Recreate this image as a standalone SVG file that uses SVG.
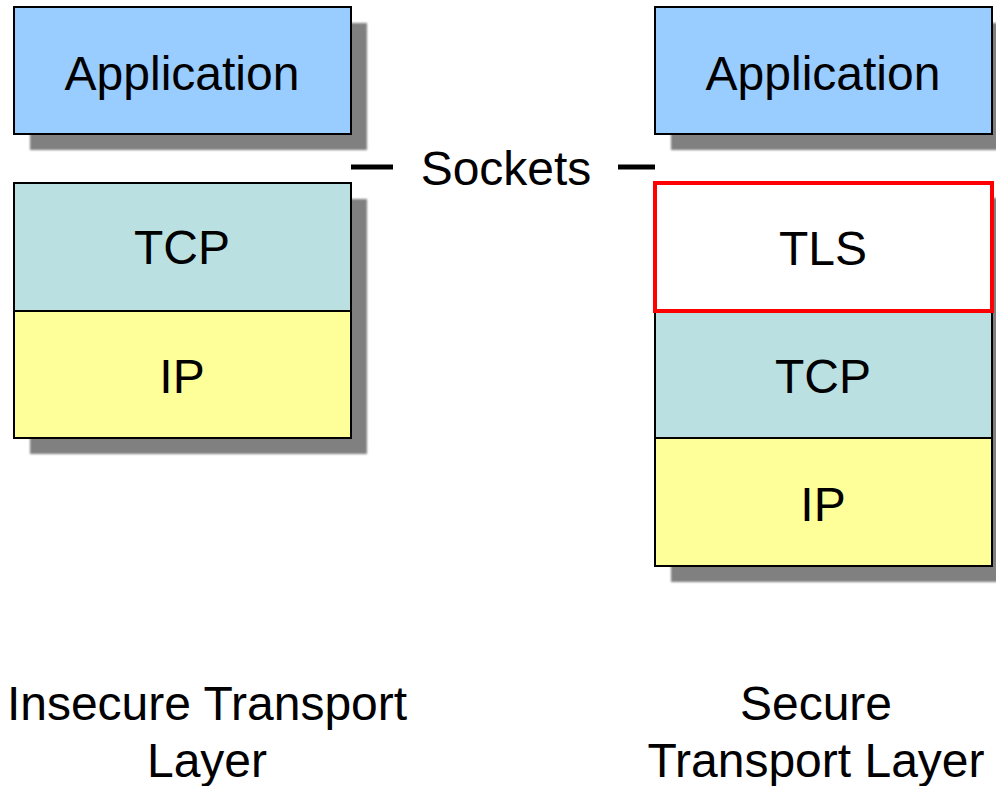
<svg xmlns="http://www.w3.org/2000/svg" width="996" height="786" viewBox="0 0 996 786">
  <defs>
    <filter id="soft" x="-5%" y="-5%" width="110%" height="110%">
      <feGaussianBlur stdDeviation="0.8"/>
    </filter>
  </defs>
  <style>
    .shadow { fill: #808080; filter: url(#soft); }
    .box { stroke: #000; stroke-width: 2; }
    .app { fill: #99ccff; }
    .tcp { fill: #bae0e2; }
    .ip { fill: #ffff99; }
    .tls { fill: #ffffff; stroke: #ff0000; stroke-width: 4; }
    text { font-family: "Liberation Sans", Arial, sans-serif; font-size: 48px; fill: #000; text-anchor: middle; }
    .tick { stroke: #000; stroke-width: 5; }
  </style>
  <rect width="996" height="786" fill="#ffffff"/>

  <!-- insecure stack -->
  <g id="left-application">
    <rect class="shadow" x="30" y="23" width="337" height="127"/>
    <rect class="box app" x="14" y="7" width="337" height="127"/>
    <text x="182" y="90">Application</text>
  </g>
  <g id="left-stack-shadow">
    <rect class="shadow" x="30" y="199" width="337" height="255"/>
  </g>
  <g id="left-tcp">
    <rect class="box tcp" x="14" y="183" width="337" height="128"/>
    <text x="182" y="264">TCP</text>
  </g>
  <g id="left-ip">
    <rect class="box ip" x="14" y="311" width="337" height="127"/>
    <text x="182" y="393">IP</text>
  </g>

  <!-- secure stack -->
  <g id="right-application">
    <rect class="shadow" x="671" y="23" width="337" height="127"/>
    <rect class="box app" x="655" y="7" width="337" height="127"/>
    <text x="823" y="90">Application</text>
  </g>
  <g id="right-stack-shadow">
    <rect class="shadow" x="671" y="198" width="337" height="384"/>
  </g>
  <g id="right-tcp">
    <rect class="box tcp" x="655" y="311" width="337" height="127"/>
    <text x="823" y="393">TCP</text>
  </g>
  <g id="right-ip">
    <rect class="box ip" x="655" y="438" width="337" height="128"/>
    <text x="823" y="521">IP</text>
  </g>
  <g id="right-tls">
    <rect class="tls" x="655" y="183" width="337" height="128"/>
    <text x="823" y="265">TLS</text>
  </g>

  <!-- socket boundary markers -->
  <g id="connectors">
    <line class="tick" x1="351" y1="167" x2="393" y2="167"/>
    <line class="tick" x1="618" y1="167" x2="655" y2="167"/>
  </g>
  <g id="sockets-label">
    <text x="506" y="185">Sockets</text>
  </g>

  <g id="captions">
    <text x="207" y="720">Insecure Transport</text>
    <text x="207" y="777">Layer</text>
    <text x="816" y="720">Secure</text>
    <text x="816" y="777">Transport Layer</text>
  </g>
</svg>
